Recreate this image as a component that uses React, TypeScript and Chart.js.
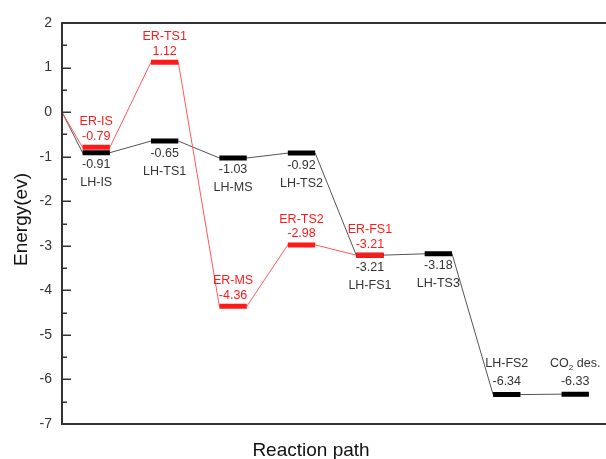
import { useEffect, useRef } from "react";
import { Chart, registerables } from "chart.js";

Chart.register(...registerables);

// ---- data ----
const lhNames = ["LH-IS", "LH-TS1", "LH-MS", "LH-TS2", "LH-FS1", "LH-TS3", "LH-FS2", "CO2 des."];
const lhValues = [-0.91, -0.65, -1.03, -0.92, -3.21, -3.18, -6.34, -6.33];
const erNames = ["ER-IS", "ER-TS1", "ER-MS", "ER-TS2", "ER-FS1"];
const erValues = [-0.79, 1.12, -4.36, -2.98, -3.21];
const startEnergy = 0;
const yTicks = [2, 1, 0, -1, -2, -3, -4, -5, -6, -7];
const xTitle = "Reaction path";
const yTitle = "Energy(ev)";

const HALF = 0.2;
const pos = (i: number) => i + 0.5;

function pathPoints(values: number[]) {
  const pts: { x: number; y: number }[] = [{ x: 0, y: startEnergy }];
  values.forEach((v, i) => {
    pts.push({ x: pos(i) - HALF, y: v });
    pts.push({ x: pos(i) + HALF, y: v });
  });
  return pts;
}

function barPoints(values: number[]) {
  const pts: { x: number; y: number | null }[] = [];
  values.forEach((v, i) => {
    pts.push({ x: pos(i) - HALF, y: v });
    pts.push({ x: pos(i) + HALF, y: v });
    pts.push({ x: pos(i) + 0.5, y: null });
  });
  return pts;
}

const RED = "#ff1a1a";
const TEXT = "#333333";
const FONT = '"Liberation Sans", Arial, sans-serif';

function drawName(ctx: CanvasRenderingContext2D, text: string, cx: number, cy: number) {
  if (text.startsWith("CO2")) {
    const a = "CO";
    const b = "2";
    const c = text.slice(3);
    ctx.font = `12.5px ${FONT}`;
    const wa = ctx.measureText(a).width;
    const wc = ctx.measureText(c).width;
    ctx.font = `8px ${FONT}`;
    const wb = ctx.measureText(b).width;
    let x = cx - (wa + wb + wc) / 2;
    ctx.textAlign = "left";
    ctx.font = `12.5px ${FONT}`;
    ctx.fillText(a, x, cy);
    x += wa;
    ctx.font = `8px ${FONT}`;
    ctx.fillText(b, x, cy + 5);
    x += wb;
    ctx.font = `12.5px ${FONT}`;
    ctx.fillText(c, x, cy);
    ctx.textAlign = "center";
  } else {
    ctx.fillText(text, cx, cy);
  }
}

const decorPlugin = {
  id: "decor",
  afterDatasetsDraw(chart: any) {
    const ctx: CanvasRenderingContext2D = chart.ctx;
    const xs = chart.scales.x;
    const ys = chart.scales.y;
    const area = chart.chartArea;
    ctx.save();
    // axes
    ctx.strokeStyle = "#333";
    ctx.lineWidth = 2;
    ctx.beginPath();
    ctx.moveTo(area.left, area.top);
    ctx.lineTo(area.right, area.top);
    ctx.moveTo(area.left, area.top - 1);
    ctx.lineTo(area.left, area.bottom + 1);
    ctx.moveTo(area.left, area.bottom);
    ctx.lineTo(area.right, area.bottom);
    ctx.stroke();
    // inward ticks
    ctx.lineWidth = 1.5;
    ctx.beginPath();
    for (let v = -7; v <= 2.001; v += 0.5) {
      const y = Math.round(ys.getPixelForValue(v)) + 0.25;
      const major = Math.abs(v - Math.round(v)) < 1e-6;
      ctx.moveTo(area.left, y);
      ctx.lineTo(area.left + (major ? 9 : 5), y);
    }
    ctx.stroke();

    // titles
    ctx.fillStyle = "#111";
    ctx.font = `19px ${FONT}`;
    ctx.textAlign = "center";
    ctx.textBaseline = "alphabetic";
    ctx.fillText(xTitle, 311, 456);
    ctx.save();
    ctx.translate(27, (area.top + area.bottom) / 2 - 4);
    ctx.rotate(-Math.PI / 2);
    ctx.fillText(yTitle, 0, 0);
    ctx.restore();

    // labels
    ctx.textAlign = "center";
    ctx.textBaseline = "middle";
    ctx.font = `12.5px ${FONT}`;
    lhValues.forEach((v, i) => {
      const cx = xs.getPixelForValue(pos(i));
      const cy = ys.getPixelForValue(v);
      ctx.fillStyle = TEXT;
      ctx.font = `12.5px ${FONT}`;
      if (i >= 6) {
        ctx.fillText(v.toFixed(2), cx, cy - 13);
        drawName(ctx, lhNames[i], cx, cy - 31);
      } else {
        ctx.fillText(v.toFixed(2), cx, cy + 12);
        drawName(ctx, lhNames[i], cx, cy + 30);
      }
    });
    erValues.forEach((v, i) => {
      const cx = xs.getPixelForValue(pos(i));
      const cy = ys.getPixelForValue(v);
      ctx.fillStyle = RED;
      ctx.font = `12.5px ${FONT}`;
      ctx.fillText(v.toFixed(2), cx, cy - 11);
      drawName(ctx, erNames[i], cx, cy - 25.5);
    });
    ctx.restore();
  },
};

export default function App() {
  const ref = useRef<HTMLCanvasElement | null>(null);
  useEffect(() => {
    if (!ref.current) return;
    const chart = new Chart(ref.current, {
      type: "scatter",
      data: {
        datasets: [
          {
            data: barPoints(erValues) as any,
            showLine: true,
            borderColor: RED,
            borderWidth: 5,
            pointRadius: 0,
            spanGaps: false,
            borderCapStyle: "butt",
          },
          {
            data: barPoints(lhValues) as any,
            showLine: true,
            borderColor: "#000",
            borderWidth: 5,
            pointRadius: 0,
            spanGaps: false,
            borderCapStyle: "butt",
          },
          {
            data: pathPoints(erValues),
            showLine: true,
            borderColor: "#ff5a5a",
            borderWidth: 1,
            pointRadius: 0,
          },
          {
            data: pathPoints(lhValues),
            showLine: true,
            borderColor: "#555",
            borderWidth: 1,
            pointRadius: 0,
          },
        ],
      },
      options: {
        animation: false,
        responsive: true,
        maintainAspectRatio: false,
        layout: { padding: { top: 23, left: 0, right: 0, bottom: 0 } },
        plugins: { legend: { display: false }, tooltip: { enabled: false } },
        scales: {
          x: {
            type: "linear",
            min: 0,
            max: 7.95,
            grid: { display: false },
            border: { display: false },
            ticks: { display: false },
            afterFit: (s: any) => {
              s.height = 35;
            },
          },
          y: {
            type: "linear",
            min: -7,
            max: 2,
            grid: { display: false, drawTicks: false },
            border: { display: false },
            afterBuildTicks: (s: any) => {
              s.ticks = yTicks.map((v) => ({ value: v }));
            },
            ticks: {
              padding: 10,
              color: TEXT,
              font: { family: FONT, size: 14 },
              callback: (v: any) => String(v),
            },
            afterFit: (s: any) => {
              s.width = 62;
            },
          },
        },
      },
      plugins: [decorPlugin],
    });
    return () => chart.destroy();
  }, []);
  return (
    <div style={{ position: "fixed", left: 0, top: 0, width: 606, height: 459, background: "#fff" }}>
      <canvas ref={ref} />
    </div>
  );
}
